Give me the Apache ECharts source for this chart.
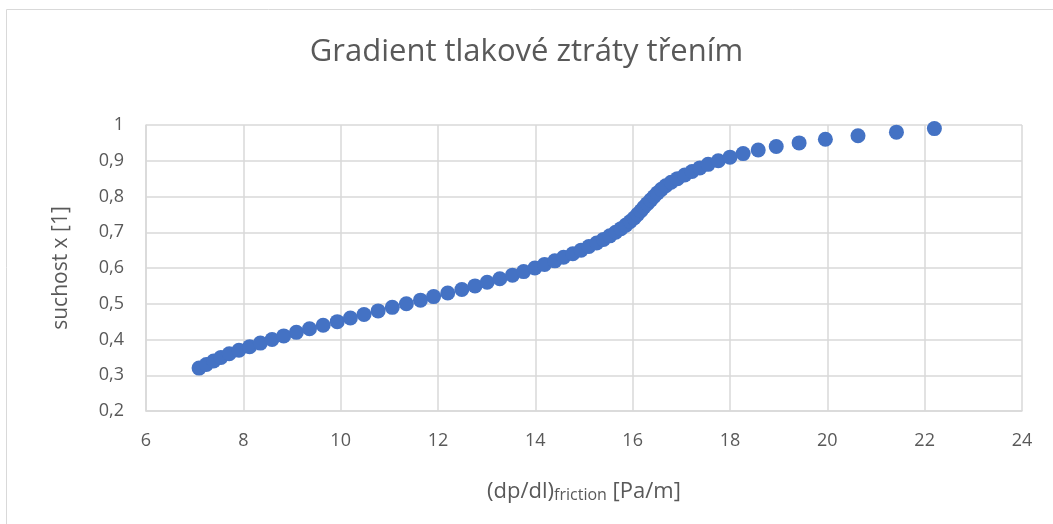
<!DOCTYPE html>
<html>
<head>
<meta charset="utf-8">
<script src="https://cdn.jsdelivr.net/npm/echarts@6/dist/echarts.min.js"></script>
<style>
  html, body { margin: 0; padding: 0; background: #fff; }
  #chart { width: 1053px; height: 524px; }
</style>
</head>
<body>
<div id="chart"></div>
<script>
// suchost x [1]
const dryness = [
  0.32, 0.33, 0.34, 0.35, 0.36, 0.37, 0.38, 0.39, 0.40, 0.41,
  0.42, 0.43, 0.44, 0.45, 0.46, 0.47, 0.48, 0.49, 0.50, 0.51,
  0.52, 0.53, 0.54, 0.55, 0.56, 0.57, 0.58, 0.59, 0.60, 0.61,
  0.62, 0.63, 0.64, 0.65, 0.66, 0.67, 0.68, 0.69, 0.70, 0.71,
  0.72, 0.73, 0.74, 0.75, 0.76, 0.77, 0.78, 0.79, 0.80, 0.81,
  0.82, 0.83, 0.84, 0.85, 0.86, 0.87, 0.88, 0.89, 0.90, 0.91,
  0.92, 0.93, 0.94, 0.95, 0.96, 0.97, 0.98, 0.99
];
// (dp/dl)friction [Pa/m]
const gradient = [
  7.09, 7.24, 7.39, 7.54, 7.71, 7.91, 8.13, 8.35, 8.59, 8.83,
  9.09, 9.36, 9.64, 9.93, 10.20, 10.48, 10.77, 11.06, 11.35, 11.64,
  11.91, 12.20, 12.49, 12.76, 13.01, 13.27, 13.53, 13.76, 13.99, 14.19,
  14.40, 14.58, 14.77, 14.94, 15.10, 15.26, 15.40, 15.53, 15.65, 15.76,
  15.86, 15.95, 16.03, 16.10, 16.17, 16.23, 16.30, 16.37, 16.44, 16.51,
  16.59, 16.68, 16.79, 16.92, 17.07, 17.22, 17.38, 17.55, 17.76, 18.00,
  18.27, 18.58, 18.95, 19.42, 19.96, 20.63, 21.42, 22.20
];

const points = gradient.map((g, i) => [g, dryness[i]]);
const font = '"Open Sans", "Noto Sans", sans-serif';
const grey = '#595959';

const myChart = echarts.init(document.getElementById('chart'));
const option = {
    animation: false,
    graphic: [
        {
            type: 'rect',
            shape: { x: 6.5, y: 9.5, width: 1100, height: 600 },
            style: { fill: 'none', stroke: '#d9d9d9', lineWidth: 1 }
        }
    ],
    title: {
        text: 'Gradient tlakové ztráty třením',
        left: 'center',
        top: 32,
        textStyle: {
            fontFamily: font,
            fontSize: 31,
            fontWeight: 'normal',
            color: grey
        }
    },
    grid: {
        left: 146,
        right: 31,
        top: 125,
        bottom: 113
    },
    xAxis: {
        type: 'value',
        min: 6,
        max: 24,
        interval: 2,
        name: '{m|(dp/dl)}{s|friction}{m| [Pa/m]}',
        nameLocation: 'middle',
        nameGap: 64,
        nameTextStyle: {
            rich: {
                m: { fontFamily: font, fontSize: 22, color: grey, verticalAlign: 'bottom', lineHeight: 28 },
                s: { fontFamily: font, fontSize: 16, color: grey, verticalAlign: 'bottom', lineHeight: 25 }
            }
        },
        axisLine: { show: true, lineStyle: { color: '#d9d9d9', width: 1.5 } },
        axisTick: { show: false },
        splitLine: { show: true, lineStyle: { color: '#d9d9d9', width: 1.5 } },
        axisLabel: {
            margin: 21,
            fontFamily: font,
            fontSize: 18,
            color: grey
        }
    },
    yAxis: {
        type: 'value',
        min: 0.2,
        max: 1,
        interval: 0.1,
        name: 'suchost x [1]',
        nameLocation: 'middle',
        nameRotate: 90,
        nameGap: 74,
        nameTextStyle: {
            fontFamily: font,
            fontSize: 21,
            color: grey
        },
        axisLine: { show: true, lineStyle: { color: '#d9d9d9', width: 1.5 } },
        axisTick: { show: false },
        splitLine: { show: true, lineStyle: { color: '#d9d9d9', width: 1.5 } },
        axisLabel: {
            margin: 22,
            fontFamily: font,
            fontSize: 18,
            color: grey,
            formatter: v => String(Math.round(v * 10) / 10).replace('.', ',')
        }
    },
    series: [
        {
            type: 'scatter',
            data: points,
            symbolSize: 15,
            itemStyle: { color: '#4472C4', opacity: 1 }
        }
    ]
};
option && myChart.setOption(option);
</script>
</body>
</html>
